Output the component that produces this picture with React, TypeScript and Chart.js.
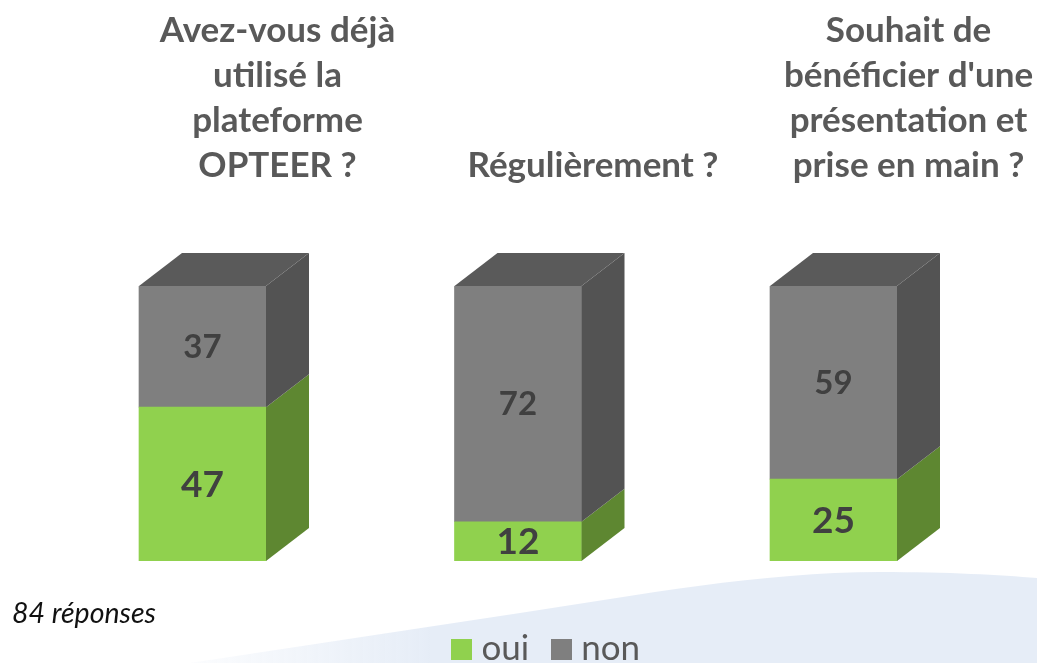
import React, { useEffect, useRef } from "react";
import { Chart, registerables } from "chart.js";

Chart.register(...registerables);

const categories = [
  ["Avez-vous déjà", "utilisé la", "plateforme", "OPTEER ?"],
  ["Régulièrement ?"],
  ["Souhait de", "bénéficier d'une", "présentation et", "prise en main ?"],
];
const ouiValues = [47, 12, 25];
const nonValues = [37, 72, 59];
const noteText = "84 réponses";
const labelSizes = { oui: 37, non: 33 };

const FONT = "Lato, Carlito, sans-serif";
const GREEN = "#90D14E";
const GREEN_SIDE = "#5E8731";
const GRAY = "#7F7F7F";
const GRAY_SIDE = "#535353";
const GRAY_TOP = "#5A5A5A";
const TEXT = "#595959";
const DEPTH_X = 43;
const DEPTH_Y = 33;

function swatch(color: string) {
  const c = document.createElement("canvas");
  c.width = 21;
  c.height = 21;
  const g = c.getContext("2d") as CanvasRenderingContext2D;
  g.fillStyle = color;
  g.fillRect(0, 0, 21, 21);
  return c;
}

const backdrop = {
  id: "backdrop",
  beforeDraw(chart: any) {
    const { ctx, width, height } = chart;
    const g = ctx.createLinearGradient(150, 0, 430, 0);
    g.addColorStop(0, "rgba(230,237,247,0)");
    g.addColorStop(1, "#E6EDF7");
    ctx.save();
    ctx.fillStyle = g;
    ctx.beginPath();
    ctx.moveTo(190, height);
    ctx.lineTo(520, 613);
    ctx.bezierCurveTo(640, 595, 760, 572, 880, 572);
    ctx.bezierCurveTo(950, 572, 1000, 575, width, 578);
    ctx.lineTo(width, height);
    ctx.closePath();
    ctx.fill();
    ctx.restore();
  },
};

const boxShift = {
  id: "boxShift",
  afterLayout(chart: any) {
    chart.legend.left += 32;
    chart.legend.right += 32;
    const note = chart.boxes.find((b: any) => b.options && b.options.text === noteText);
    if (note) note.left = 12;
  },
};

const cuboid = {
  id: "cuboid",
  afterDatasetsDraw(chart: any) {
    const { ctx } = chart;
    ctx.save();
    chart.data.datasets.forEach((ds: any, di: number) => {
      const last = di === chart.data.datasets.length - 1;
      chart.getDatasetMeta(di).data.forEach((bar: any) => {
        const right = bar.x + bar.width / 2;
        const left = bar.x - bar.width / 2;
        ctx.fillStyle = di === 0 ? GREEN_SIDE : GRAY_SIDE;
        ctx.beginPath();
        ctx.moveTo(right, bar.base);
        ctx.lineTo(right + DEPTH_X, bar.base - DEPTH_Y);
        ctx.lineTo(right + DEPTH_X, bar.y - DEPTH_Y);
        ctx.lineTo(right, bar.y);
        ctx.closePath();
        ctx.fill();
        if (last) {
          ctx.fillStyle = GRAY_TOP;
          ctx.beginPath();
          ctx.moveTo(left, bar.y);
          ctx.lineTo(left + DEPTH_X, bar.y - DEPTH_Y);
          ctx.lineTo(right + DEPTH_X, bar.y - DEPTH_Y);
          ctx.lineTo(right, bar.y);
          ctx.closePath();
          ctx.fill();
        }
      });
    });
    ctx.textAlign = "center";
    ctx.textBaseline = "middle";
    ctx.fillStyle = "#404040";
    chart.data.datasets.forEach((ds: any, di: number) => {
      const size = di === 0 ? labelSizes.oui : labelSizes.non;
      ctx.font = `bold ${size}px ${FONT}`;
      chart.getDatasetMeta(di).data.forEach((bar: any, i: number) => {
        ctx.fillText(String(ds.data[i]), bar.x, (bar.y + bar.base) / 2 + 1);
      });
    });
    ctx.restore();
  },
};

export default function App() {
  const ref = useRef<HTMLCanvasElement>(null);
  useEffect(() => {
    const chart = new Chart(ref.current as HTMLCanvasElement, {
      type: "bar",
      data: {
        labels: categories as any,
        datasets: [
          { label: "oui", data: ouiValues, backgroundColor: GREEN, pointStyle: swatch(GREEN), barThickness: 127 } as any,
          { label: "non", data: nonValues, backgroundColor: GRAY, pointStyle: swatch(GRAY), barThickness: 127 } as any,
        ],
      },
      plugins: [backdrop, boxShift, cuboid],
      options: {
        responsive: false,
        animation: false,
        layout: { padding: { left: 44.75, right: 45.75, top: -90, bottom: -13.5 } },
        scales: {
          x: {
            stacked: true,
            position: "top",
            grid: { display: false, drawTicks: false },
            border: { display: false },
            afterFit(scale: any) {
              scale.paddingLeft = 0;
              scale.paddingRight = 0;
            },
            ticks: {
              color: TEXT,
              font: { family: FONT, size: 35, weight: "bold", lineHeight: "45px" },
              padding: 98,
              labelOffset: 75,
              maxRotation: 0,
              minRotation: 0,
              autoSkip: false,
            },
          },
          y: { stacked: true, display: false, min: 0, max: 84 },
        },
        plugins: {
          tooltip: { enabled: false },
          title: { display: false },
          subtitle: {
            display: true,
            text: noteText,
            position: "bottom",
            align: "start",
            weight: 500,
            color: "#111111",
            font: { family: FONT, size: 28.5, style: "italic", weight: "normal", lineHeight: 1.2 },
            padding: { top: 36, bottom: -30.2 },
          } as any,
          legend: {
            display: true,
            position: "bottom",
            labels: {
              color: TEXT,
              font: { family: FONT, size: 35, lineHeight: 1 },
              usePointStyle: true,
              boxHeight: 21,
              pointStyleWidth: 4,
              padding: 30.5,
            },
          },
        },
      },
    });
    return () => chart.destroy();
  }, []);
  return (
    <div style={{ position: "absolute", left: 0, top: 0, width: 1037, height: 663, overflow: "hidden", background: "#fff" }}>
      <canvas ref={ref} width={1037} height={663} style={{ display: "block" }} />
    </div>
  );
}
